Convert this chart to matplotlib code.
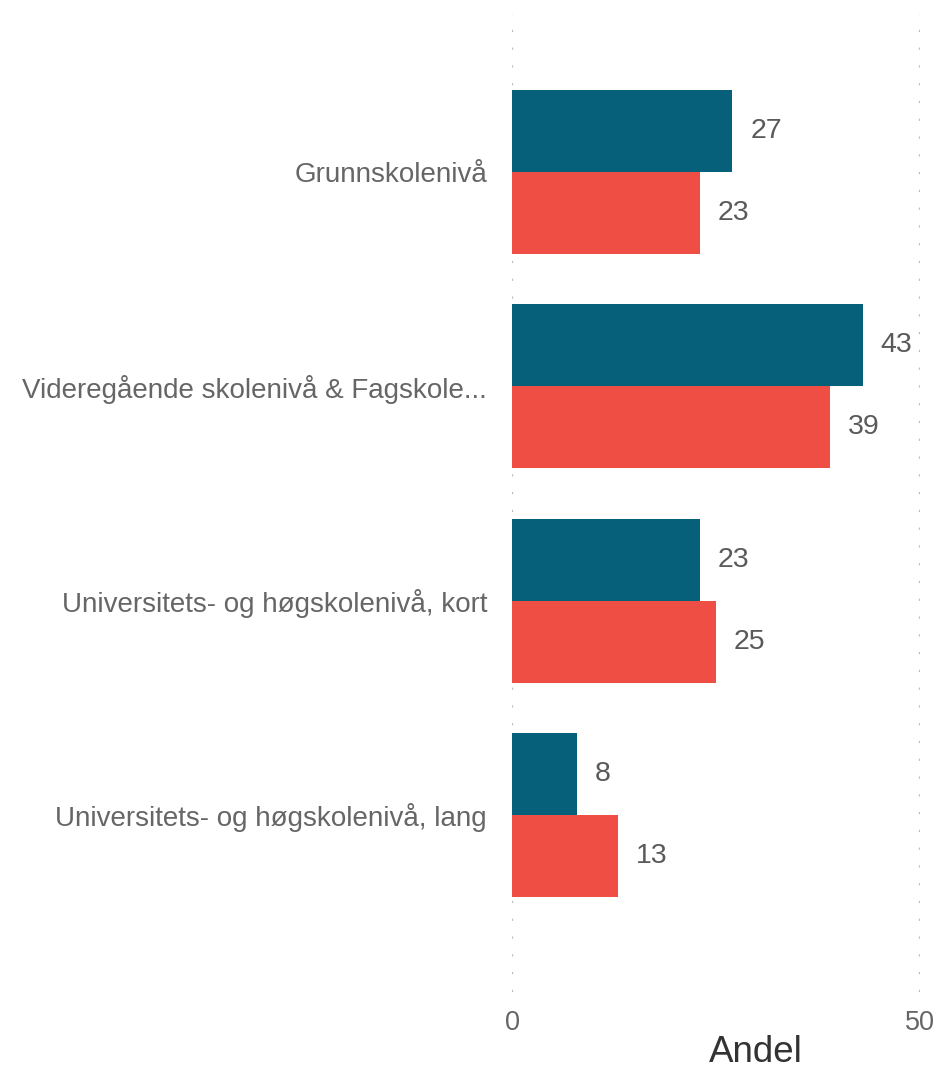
import numpy as np
import matplotlib
matplotlib.use("Agg")
import matplotlib.pyplot as plt

plt.rcParams['font.family'] = ['Liberation Sans', 'DejaVu Sans']

kategorier = ["Grunnskolenivå",
              "Videregående skolenivå & Fagskole...",
              "Universitets- og høgskolenivå, kort",
              "Universitets- og høgskolenivå, lang"]
serie_a = [27, 43, 23, 8]
serie_b = [23, 39, 25, 13]
farge_a = "#07607A"
farge_b = "#EF4E45"

fig = plt.figure(figsize=(9.4, 10.69), dpi=100)
ax = fig.add_axes([512 / 940, 1 - 992 / 1069, 408 / 940, 978 / 1069])

y = np.arange(len(kategorier))
h = 0.383
ax.barh(y - h / 2, serie_a, height=h, color=farge_a, zorder=2)
ax.barh(y + h / 2, serie_b, height=h, color=farge_b, zorder=2)

for i in range(len(kategorier)):
    ax.text(serie_a[i] + 2.2, y[i] - h / 2, str(serie_a[i]), va="center", ha="left",
            fontsize=20.5, color="#5a5a5a")
    ax.text(serie_b[i] + 2.2, y[i] + h / 2, str(serie_b[i]), va="center", ha="left",
            fontsize=20.5, color="#5a5a5a")

ax.set_xlim(0, 50)
ax.set_ylim(3.826, -0.737)
ax.set_xticks([0, 50])
ax.set_yticks(y)
ax.set_yticklabels(kategorier)
ax.tick_params(axis="y", length=0, pad=18, labelsize=20, labelcolor="#666666")
ax.tick_params(axis="x", length=0, pad=13, labelsize=19.5, labelcolor="#666666")
for s in ax.spines.values():
    s.set_visible(False)
ax.grid(axis="x", linestyle=(0, (1, 7)), color="#bdbdbd", linewidth=1.6, zorder=0)

fig.text(756 / 940, 1 - 1053 / 1069, "Andel", ha="center", va="center",
         fontsize=26.5, color="#333333")

fig.savefig("out.png", dpi=100)
